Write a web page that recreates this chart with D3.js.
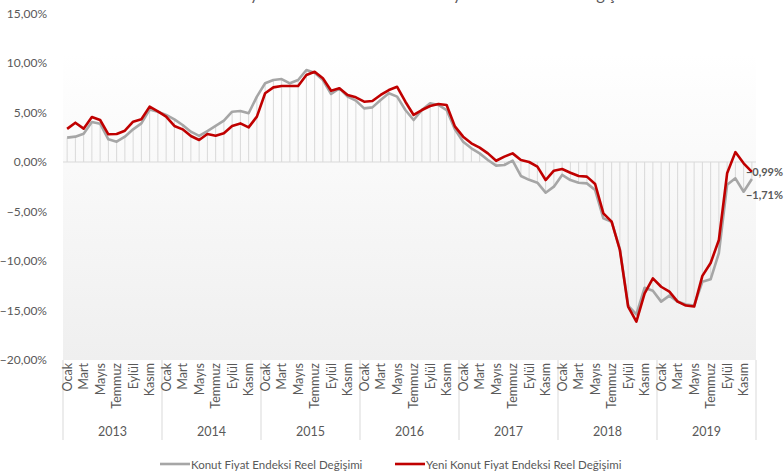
<!DOCTYPE html>
<html>
<head>
<meta charset="utf-8">
<script src="https://cdn.jsdelivr.net/npm/d3@7"></script>
<style>
    body { margin: 0; background: #fff; }
    svg { display: block; font-family: Lato, "Liberation Sans", sans-serif; }
</style>
</head>
<body>
<div id="chart"></div>
<script>
// Chart data
const years = ['2013', '2014', '2015', '2016', '2017', '2018', '2019'];
const monthNames = ['Ocak', 'Şubat', 'Mart', 'Nisan', 'Mayıs', 'Haziran', 'Temmuz', 'Ağustos', 'Eylül', 'Ekim', 'Kasım', 'Aralık'];
const shownMonths = ['Ocak', 'Mart', 'Mayıs', 'Temmuz', 'Eylül', 'Kasım'];

const konutReel = [
    2.46, 2.56, 2.86, 4.04, 3.87, 2.29, 2.05, 2.56, 3.30, 3.90, 5.30, 5.08,
    4.75, 4.30, 3.74, 3.06, 2.63, 3.13, 3.64, 4.17, 5.08, 5.15, 4.92, 6.60,
    7.95, 8.28, 8.38, 7.95, 8.28, 9.29, 9.02, 8.28, 6.87, 7.44, 6.60, 6.20,
    5.42, 5.52, 6.26, 6.94, 6.60, 5.25, 4.24, 5.25, 5.93, 5.76, 5.25, 3.30,
    2.05, 1.38, 0.87, 0.20, -0.37, -0.30, 0.13, -1.41, -1.80, -2.09, -3.10, -2.49,
    -1.31, -1.82, -2.09, -2.16, -2.83, -5.69, -6.03, -8.80, -14.50, -15.40, -12.70, -13.00,
    -14.10, -13.50, -14.10, -14.40, -14.50, -12.10, -11.85, -9.20, -2.30, -1.65, -3.00, -1.71
];
const yeniKonutReel = [
    3.35, 3.97, 3.37, 4.55, 4.24, 2.80, 2.83, 3.16, 4.07, 4.31, 5.59, 5.12,
    4.58, 3.64, 3.30, 2.63, 2.22, 2.83, 2.66, 2.90, 3.64, 3.90, 3.50, 4.58,
    6.95, 7.54, 7.68, 7.68, 7.68, 8.79, 9.12, 8.45, 7.20, 7.44, 6.77, 6.53,
    6.09, 6.16, 6.77, 7.27, 7.60, 6.09, 4.75, 5.25, 5.66, 5.86, 5.76, 3.60,
    2.56, 1.89, 1.45, 0.87, 0.13, 0.54, 0.87, 0.20, 0.00, -0.47, -1.82, -0.88,
    -0.71, -1.08, -1.41, -1.48, -2.22, -5.19, -6.03, -8.89, -14.60, -16.13, -13.27, -11.75,
    -12.60, -13.10, -14.10, -14.50, -14.60, -11.50, -10.20, -7.88, -1.14, 1.00, -0.13, -0.99
];
const yTicks = [-20, -15, -10, -5, 0, 5, 10, 15];

const seriesNames = ['Konut Fiyat Endeksi Reel Değişimi', 'Yeni Konut Fiyat Endeksi Reel Değişimi'];
const seriesColors = ['#a6a6a6', '#c00000'];
const titleText = 'Konut Fiyat Endeksi ve Yeni Konut Fiyat Endeksi Reel Değişimi';

const fmt = v => d3.format('.2f')(v).replace('.', ',') + '%';

function drawChart() {
    const width = 784, height = 474;
    const left = 63, right = 756, top = 13.5, bottom = 360;

    const svg = d3.select('#chart').append('svg')
        .attr('width', width)
        .attr('height', height);

    const months = d3.range(years.length * 12);
    const x = d3.scaleBand().domain(months).range([left, right]);
    const cx = i => x(i) + x.bandwidth() / 2;
    const y = d3.scaleLinear().domain([-20, 15]).range([bottom, top]);

    // plot area background
    const grad = svg.append('defs').append('linearGradient')
        .attr('id', 'bg').attr('x1', 0).attr('y1', 0).attr('x2', 0).attr('y2', 1);
    grad.append('stop').attr('offset', '0%').attr('stop-color', '#ffffff');
    grad.append('stop').attr('offset', '100%').attr('stop-color', '#efefef');
    svg.append('rect')
        .attr('x', left).attr('y', y(11))
        .attr('width', right - left).attr('height', bottom - y(11))
        .attr('fill', 'url(#bg)');

    // title, cut off at the top edge as in the original
    svg.append('text')
        .attr('x', 413).attr('y', 0)
        .attr('text-anchor', 'middle')
        .attr('font-size', 16.5)
        .attr('fill', '#595959')
        .text(titleText);

    // drop lines
    svg.append('g').selectAll('line')
        .data(months)
        .enter().append('line')
        .attr('x1', cx).attr('x2', cx)
        .attr('y1', y(0))
        .attr('y2', i => y(konutReel[i]))
        .attr('stroke', '#d9d9d9')
        .attr('stroke-width', 1);

    // zero line
    svg.append('line')
        .attr('x1', left).attr('x2', right)
        .attr('y1', y(0)).attr('y2', y(0))
        .attr('stroke', '#d9d9d9');

    // y axis
    const yAxis = svg.append('g')
        .attr('transform', `translate(${left - 13},0)`)
        .call(d3.axisLeft(y).tickValues(yTicks).tickSize(0).tickFormat(fmt));
    yAxis.select('.domain').remove();
    yAxis.selectAll('text')
        .attr('font-family', 'Lato, sans-serif')
        .attr('font-size', 12)
        .attr('fill', '#595959');

    // category axis: year separators, month labels, year labels
    const yearEdges = d3.range(years.length + 1).map(k => k === years.length ? right : x(k * 12));
    svg.append('g').selectAll('line')
        .data(yearEdges)
        .enter().append('line')
        .attr('x1', d => d).attr('x2', d => d)
        .attr('y1', bottom).attr('y2', 440)
        .attr('stroke', '#d9d9d9');

    const labelled = months.filter(i => shownMonths.includes(monthNames[i % 12]));
    svg.append('g').selectAll('text')
        .data(labelled)
        .enter().append('text')
        .attr('transform', i => `translate(${cx(i) + 4.5},363) rotate(-90)`)
        .attr('text-anchor', 'end')
        .attr('font-size', 12.5)
        .attr('fill', '#595959')
        .text(i => monthNames[i % 12]);

    svg.append('g').selectAll('text')
        .data(years)
        .enter().append('text')
        .attr('x', (d, k) => (yearEdges[k] + yearEdges[k + 1]) / 2)
        .attr('y', 436)
        .attr('text-anchor', 'middle')
        .attr('font-size', 12.5)
        .attr('fill', '#595959')
        .text(d => d);

    // series lines
    const line = d3.line().x((d, i) => cx(i)).y(d => y(d));
    [konutReel, yeniKonutReel].forEach((data, s) => {
        svg.append('path')
            .datum(data)
            .attr('fill', 'none')
            .attr('stroke', seriesColors[s])
            .attr('stroke-width', 2.6)
            .attr('stroke-linejoin', 'round')
            .attr('d', line);
    });

    // end labels
    const last = months.length - 1;
    svg.append('text')
        .attr('x', 783).attr('y', y(yeniKonutReel[last]) + 4)
        .attr('text-anchor', 'end')
        .attr('font-size', 11).attr('font-weight', 'bold')
        .attr('fill', '#595959')
        .text(fmt(yeniKonutReel[last]));
    svg.append('text')
        .attr('x', 783).attr('y', y(konutReel[last]) + 20)
        .attr('text-anchor', 'end')
        .attr('font-size', 11).attr('font-weight', 'bold')
        .attr('fill', '#595959')
        .text(fmt(konutReel[last]));

    // legend
    const legendX = [160, 395];
    seriesNames.forEach((name, s) => {
        const g = svg.append('g').attr('transform', `translate(${legendX[s]},464)`);
        g.append('line')
            .attr('x1', 0).attr('x2', 30)
            .attr('stroke', seriesColors[s])
            .attr('stroke-width', 2.6);
        g.append('text')
            .attr('x', 31).attr('y', 4.5)
            .attr('font-size', 11.5)
            .attr('fill', '#595959')
            .text(name);
    });
}

document.addEventListener('DOMContentLoaded', drawChart);
</script>
</body>
</html>
